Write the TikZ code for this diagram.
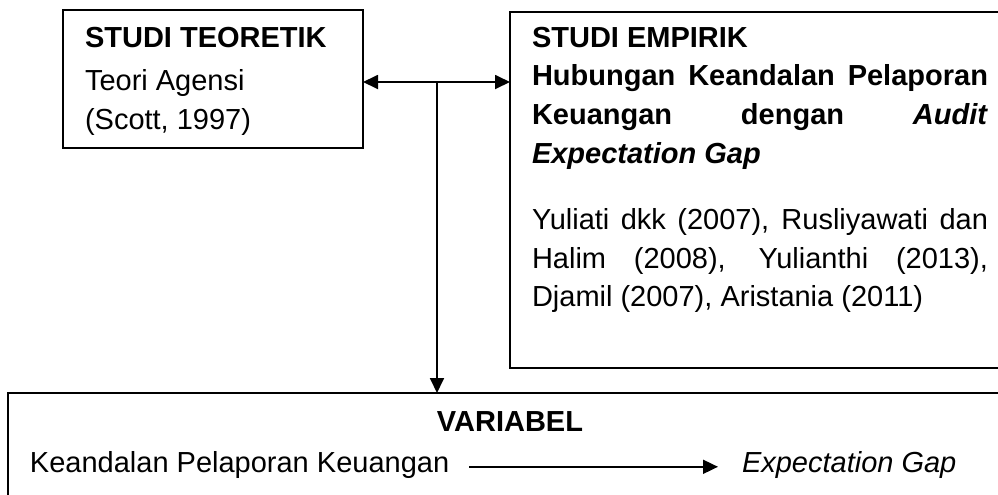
\documentclass[tikz,border=0pt]{standalone}
\usepackage{fontspec}
\setmainfont{Liberation Sans}
\usetikzlibrary{arrows.meta,calc}
\tikzset{
  boxshape/.style={draw=black, line width=0.8pt, rectangle, inner sep=0pt, outer sep=0pt, anchor=north west},
  txt/.style={inner sep=0pt, outer sep=0pt, font=\fontsize{14.5pt}{19.35pt}\selectfont},
  arr/.style={line width=0.9pt, -{Triangle[length=7.5pt,width=7pt]}}
}
\begin{document}
\begin{tikzpicture}[x=0.5pt,y=-0.5pt]
\useasboundingbox (0,0) rectangle (998,494);
\clip (0,0) rectangle (998,494);
\fill[white] (0,0) rectangle (998,494);
% boxes
\node[boxshape, minimum width=150pt, minimum height=69pt] (lbox) at (63,10) {};
\node[boxshape, minimum width=250pt, minimum height=178pt] (rbox) at (510,12) {};
\node[boxshape, minimum width=502pt, minimum height=68.5pt] (bbox) at (8,393) {};
% left box text
\node[txt, anchor=north west, align=left] (ltext) at (85,27)
  {\fontsize{14.5pt}{17.5pt}\selectfont\textbf{STUDI TEORETIK}\\[2.5pt]Teori Agensi\\(Scott, 1997)};
% right box text
\node[txt, anchor=north west, text width=228pt, align=justify] (rtext) at (532,27)
  {\parindent=0pt\hyphenpenalty=10000\exhyphenpenalty=10000\hbadness=10000
   \textbf{STUDI EMPIRIK}\\
   \textbf{Hubungan Keandalan Pelaporan\linebreak Keuangan dengan \textit{Audit}\linebreak \textit{Expectation Gap}}\par
   \vspace{13.7pt}
   Yuliati dkk (2007), Rusliyawati dan\linebreak Halim (2008), Yulianthi (2013),\linebreak Djamil (2007), Aristania (2011)\par};
% bottom box text
\node[txt, anchor=base, font=\fontsize{14.5pt}{19.35pt}\selectfont\bfseries] (var) at (510,431) {VARIABEL};
\node[txt, anchor=base west] (kpk) at (30,472) {Keandalan Pelaporan Keuangan};
\node[txt, anchor=base west, font=\fontsize{14.5pt}{19.35pt}\selectfont\itshape] (eg) at (742,472) {Expectation Gap};
% connectors
\coordinate (j) at (437,82);
\draw[arr] (j) -- (j -| lbox.east);
\draw[arr] (j) -- (j -| rbox.west);
\draw[arr] (j) -- (j |- bbox.north);
\draw[arr] ($(kpk.base east)+(10pt,2.6pt)$) -- ($(eg.base west)+(-12pt,2.6pt)$);
\end{tikzpicture}
\end{document}
